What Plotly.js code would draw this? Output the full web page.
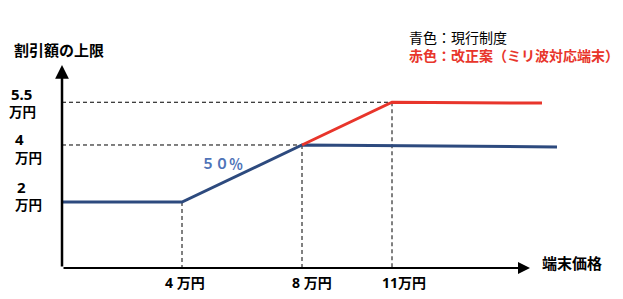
<!DOCTYPE html>
<html>
<head>
<meta charset="utf-8">
<script src="https://cdn.plot.ly/plotly-3.0.1.min.js"></script>
<style>html,body{margin:0;padding:0;background:#fff;}#chart{width:623px;height:299px;}</style>
</head>
<body>
<div id="chart"></div>
<script>
// ---- data ----
const blueX = [0, 4, 8, 16.5];
const blueY = [2, 2, 4, 3.93];
const redX = [8, 11, 16];
const redY = [4, 5.5, 5.47];
const keyX = [4, 8, 11];
const keyY = [2, 4, 5.5];
const xTickVals = [4, 8, 11];
const xTickLabels = ['4 万円', '8 万円', '11万円'];
const yTickVals = [2, 4, 5.5];
const yTickNums = ['2', '4', '5.5'];
const yTickUnit = '万円';
const yAxisTitle = '割引額の上限';
const xAxisTitle = '端末価格';
const legendBlue = '青色：現行制度';
const legendRed = '赤色：改正案（ミリ波対応端末）';
const slopeLabel = '５０％';

// ---- styles ----
const FONT = 'Noto Sans, Noto Sans CJK JP, sans-serif';
const BLUE = '#2d4a7e';
const RED = '#e8352b';
const W = 623, H = 299;
const M = {l: 42, r: 21, t: 30, b: 21};
const xRange = [-0.667, 18];
const yRange = [-0.667, 8.035];
const axisY = -0.316;   // where the x axis sits
const xArrowEnd = 15.6;
const yArrowEnd = 6.81;
const yLblStyle = [
  {numX: 21, unitX: 28.5, numDy: 15, unitDy: -3},
  {numX: 19.5, unitX: 28, numDy: 6, unitDy: -13},
  {numX: 21.5, unitX: 22.5, numDy: 8, unitDy: -10}
];
const xLblShift = [-19, -12, -12];

const pw = W - M.l - M.r, ph = H - M.t - M.b;
const px2paperX = p => (p - M.l) / pw;
const px2paperY = p => (H - M.b - p) / ph;

const traces = [
  {x: blueX, y: blueY, mode: 'lines', line: {color: BLUE, width: 3}, hoverinfo: 'skip'},
  {x: redX, y: redY, mode: 'lines', line: {color: RED, width: 3}, hoverinfo: 'skip'}
];

const shapes = [];
keyX.forEach((kx, i) => {
  shapes.push({type: 'line', xref: 'x', yref: 'y', x0: kx, x1: kx, y0: keyY[i], y1: axisY,
    line: {color: '#000', width: 1, dash: '4px,3px'}, layer: 'below'});
  if (i > 0) {
    shapes.push({type: 'line', xref: 'x', yref: 'y', x0: 0, x1: kx, y0: keyY[i], y1: keyY[i],
      line: {color: '#000', width: 1, dash: '4px,3px'}, layer: 'below'});
  }
});

const annotations = [];
// axes arrows
annotations.push({x: xArrowEnd, y: axisY, ax: 0, ay: axisY, xref: 'x', yref: 'y', axref: 'x', ayref: 'y',
  showarrow: true, arrowhead: 2, arrowsize: 1.2, arrowwidth: 2, arrowcolor: '#000', text: ''});
annotations.push({x: 0, y: yArrowEnd, ax: 0, ay: axisY, xref: 'x', yref: 'y', axref: 'x', ayref: 'y',
  showarrow: true, arrowhead: 2, arrowsize: 1.1, arrowwidth: 2.5, arrowcolor: '#000', text: ''});

// y tick labels
yTickVals.forEach((v, i) => {
  const s = yLblStyle[i];
  annotations.push({xref: 'paper', yref: 'y', x: px2paperX(s.numX), y: v, yshift: s.numDy,
    text: '<b>' + yTickNums[i] + '</b>', showarrow: false, xanchor: 'center', yanchor: 'middle',
    font: {family: FONT, size: 15, color: '#000'}});
  annotations.push({xref: 'paper', yref: 'y', x: px2paperX(s.unitX), y: v, yshift: s.unitDy,
    text: '<b>' + yTickUnit + '</b>', showarrow: false, xanchor: 'center', yanchor: 'middle',
    font: {family: FONT, size: 13.5, color: '#000'}});
});
// x tick labels
xTickVals.forEach((v, i) => {
  annotations.push({xref: 'x', yref: 'paper', x: v, y: px2paperY(282), xshift: xLblShift[i],
    text: '<b>' + xTickLabels[i] + '</b>', showarrow: false, xanchor: 'left', yanchor: 'middle',
    font: {family: FONT, size: 14, color: '#000'}});
});
// titles, legend texts
annotations.push({xref: 'paper', yref: 'paper', x: px2paperX(12), y: px2paperY(50), text: '<b>' + yAxisTitle + '</b>',
  showarrow: false, xanchor: 'left', yanchor: 'middle', font: {family: FONT, size: 15, color: '#000'}});
annotations.push({xref: 'paper', yref: 'paper', x: px2paperX(540), y: px2paperY(263), text: '<b>' + xAxisTitle + '</b>',
  showarrow: false, xanchor: 'left', yanchor: 'middle', font: {family: FONT, size: 15, color: '#000'}});
annotations.push({xref: 'paper', yref: 'paper', x: px2paperX(407), y: px2paperY(46.5),
  text: legendBlue + '<br><span style="color:' + RED + '"><b>' + legendRed + '</b></span>',
  showarrow: false, xanchor: 'left', yanchor: 'middle', align: 'left',
  font: {family: FONT, size: 14, color: '#000'}});
annotations.push({xref: 'paper', yref: 'paper', x: px2paperX(199), y: px2paperY(163), text: '<b>' + slopeLabel + '</b>',
  showarrow: false, xanchor: 'left', yanchor: 'middle', font: {family: FONT, size: 14, color: '#4f74b8'}});

const layout = {
  width: W, height: H,
  margin: M,
  paper_bgcolor: '#fff', plot_bgcolor: '#fff',
  showlegend: false,
  xaxis: {range: xRange, visible: false, fixedrange: true},
  yaxis: {range: yRange, visible: false, fixedrange: true},
  shapes: shapes,
  annotations: annotations,
  font: {family: FONT}
};

Plotly.newPlot('chart', traces, layout, {displayModeBar: false, staticPlot: true});
</script>
</body>
</html>
